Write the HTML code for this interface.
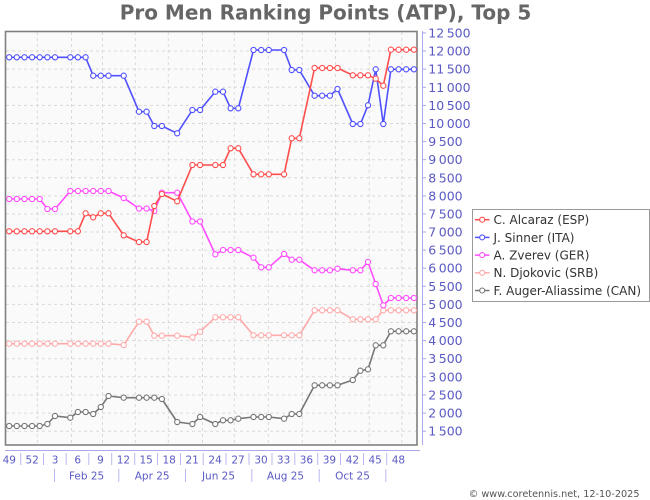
<!DOCTYPE html>
<html>
<head>
<meta charset="utf-8">
<style>
  html,body{margin:0;padding:0;background:#fff;}
  body{width:650px;height:500px;overflow:hidden;}
  svg{display:block;font-family:"DejaVu Sans","Liberation Sans",sans-serif;}
</style>
</head>
<body>
<svg width="650" height="500" viewBox="0 0 650 500" xmlns="http://www.w3.org/2000/svg">
  <defs>
    <marker id="mR" markerUnits="userSpaceOnUse" markerWidth="8" markerHeight="8" refX="4" refY="4"><circle cx="4" cy="4" r="2.6" fill="#fff" stroke="#ff4d4d" stroke-width="1.1"/></marker>
    <marker id="mB" markerUnits="userSpaceOnUse" markerWidth="8" markerHeight="8" refX="4" refY="4"><circle cx="4" cy="4" r="2.6" fill="#fff" stroke="#5050ff" stroke-width="1.1"/></marker>
    <marker id="mM" markerUnits="userSpaceOnUse" markerWidth="8" markerHeight="8" refX="4" refY="4"><circle cx="4" cy="4" r="2.6" fill="#fff" stroke="#ff4dff" stroke-width="1.1"/></marker>
    <marker id="mP" markerUnits="userSpaceOnUse" markerWidth="8" markerHeight="8" refX="4" refY="4"><circle cx="4" cy="4" r="2.6" fill="#fff" stroke="#ffaaaa" stroke-width="1.1"/></marker>
    <marker id="mG" markerUnits="userSpaceOnUse" markerWidth="8" markerHeight="8" refX="4" refY="4"><circle cx="4" cy="4" r="2.6" fill="#fff" stroke="#777777" stroke-width="1.1"/></marker>
  </defs>

  <!-- Title -->
  <text x="325.5" y="19.5" text-anchor="middle" font-size="20" font-weight="bold" fill="#666">Pro Men Ranking Points (ATP), Top 5</text>

  <!-- Plot background -->
  <rect x="5.5" y="31.5" width="411.5" height="413.5" fill="#fafafa"/>

  <!-- Grid -->
  <g stroke="#d9d9d9" stroke-width="1" stroke-dasharray="3,3" fill="none">
    <line x1="6" x2="416" y1="51" y2="51"/>
    <line x1="6" x2="416" y1="69.1" y2="69.1"/>
    <line x1="6" x2="416" y1="87.3" y2="87.3"/>
    <line x1="6" x2="416" y1="105.4" y2="105.4"/>
    <line x1="6" x2="416" y1="123.5" y2="123.5"/>
    <line x1="6" x2="416" y1="141.6" y2="141.6"/>
    <line x1="6" x2="416" y1="159.7" y2="159.7"/>
    <line x1="6" x2="416" y1="177.8" y2="177.8"/>
    <line x1="6" x2="416" y1="195.9" y2="195.9"/>
    <line x1="6" x2="416" y1="214" y2="214"/>
    <line x1="6" x2="416" y1="232" y2="232"/>
    <line x1="6" x2="416" y1="250.1" y2="250.1"/>
    <line x1="6" x2="416" y1="268.2" y2="268.2"/>
    <line x1="6" x2="416" y1="286.3" y2="286.3"/>
    <line x1="6" x2="416" y1="304.4" y2="304.4"/>
    <line x1="6" x2="416" y1="322.5" y2="322.5"/>
    <line x1="6" x2="416" y1="340.6" y2="340.6"/>
    <line x1="6" x2="416" y1="358.7" y2="358.7"/>
    <line x1="6" x2="416" y1="376.8" y2="376.8"/>
    <line x1="6" x2="416" y1="395" y2="395"/>
    <line x1="6" x2="416" y1="413.1" y2="413.1"/>
    <line x1="6" x2="416" y1="431.2" y2="431.2"/>
    <line y1="32" y2="444" x1="37.3" x2="37.3"/>
    <line y1="32" y2="444" x1="71.5" x2="71.5"/>
    <line y1="32" y2="444" x1="102.5" x2="102.5"/>
    <line y1="32" y2="444" x1="135.3" x2="135.3"/>
    <line y1="32" y2="444" x1="168.3" x2="168.3"/>
    <line y1="32" y2="444" x1="202.5" x2="202.5"/>
    <line y1="32" y2="444" x1="234.3" x2="234.3"/>
    <line y1="32" y2="444" x1="268.3" x2="268.3"/>
    <line y1="32" y2="444" x1="302.3" x2="302.3"/>
    <line y1="32" y2="444" x1="335.5" x2="335.5"/>
    <line y1="32" y2="444" x1="369.2" x2="369.2"/>
    <line y1="32" y2="444" x1="401.8" x2="401.8"/>
  </g>

  <!-- Plot frame -->
  <rect x="5.5" y="31.5" width="411.5" height="413.5" fill="none" stroke="#808080" stroke-width="1.6"/>

  <!-- Series -->
  <g fill="none" stroke-width="1.6" stroke-linejoin="round">
    <polyline stroke="#777777" marker-start="url(#mG)" marker-mid="url(#mG)" marker-end="url(#mG)"
      points="9.2,426 16.8,426 24.5,426 32.1,426 39.7,426 47.4,424 55,416 70.3,417.7 77.9,412 85.6,412 93.2,414 100.8,407 108.5,396 123.7,397.7 139,397.7 146.6,397.7 154.3,397.7 161.9,399 177.2,422 192.4,424 200.1,417 215.3,424 223,420.3 230.6,420.3 238.3,418.7 253.5,417 261.2,417 268.8,417 284.1,418.7 291.7,414 299.3,414 314.6,385.3 322.2,385.3 329.9,385.3 337.5,385.3 352.8,380 360.4,370.7 368,369.3 375.7,345.3 383.3,345.3 390.9,331.3 398.6,331.3 406.2,331.3 413.9,331.3"/>
    <polyline stroke="#ffaaaa" marker-start="url(#mP)" marker-mid="url(#mP)" marker-end="url(#mP)"
      points="9.2,343.7 16.8,343.7 24.5,343.7 32.1,343.7 39.7,343.7 47.4,343.7 55,343.7 70.3,343.7 77.9,343.7 85.6,343.7 93.2,343.7 100.8,343.7 108.5,343.7 123.7,345 139,321.7 146.6,321.7 154.3,335.7 161.9,335.7 177.2,335.7 192.4,337.3 200.1,331.7 215.3,317.3 223,317.3 230.6,317.3 238.3,317.3 253.5,335.3 261.2,335.3 268.8,335.3 284.1,335.3 291.7,335.3 299.3,335.3 314.6,310.3 322.2,310.3 329.9,310.3 337.5,310.3 352.8,319.3 360.4,319.3 368,319.3 375.7,319.3 383.3,310.3 390.9,310.3 398.6,310.3 406.2,310.3 413.9,310.3"/>
    <polyline stroke="#ff4dff" marker-start="url(#mM)" marker-mid="url(#mM)" marker-end="url(#mM)"
      points="9.2,199 16.8,199 24.5,199 32.1,199 39.7,199 47.4,209 55,209 70.3,191 77.9,191 85.6,191 93.2,191 100.8,191 108.5,191 123.7,198 139,208.5 146.6,208.5 154.3,211 161.9,192.7 177.2,192.7 192.4,221.5 200.1,221.5 215.3,254.3 223,250 230.6,250 238.3,250 253.5,257.7 261.2,267.3 268.8,267.3 284.1,254 291.7,259.7 299.3,259.7 314.6,270.3 322.2,270.3 329.9,270.3 337.5,268.7 352.8,270.3 360.4,270.3 368,262 375.7,284 383.3,305.3 390.9,298 398.6,298 406.2,298 413.9,298"/>
    <polyline stroke="#5050ff" marker-start="url(#mB)" marker-mid="url(#mB)" marker-end="url(#mB)"
      points="9.2,57.3 16.8,57.3 24.5,57.3 32.1,57.3 39.7,57.3 47.4,57.3 55,57.3 70.3,57.3 77.9,57.3 85.6,57.3 93.2,75.7 100.8,75.7 108.5,75.7 123.7,75.7 139,111.7 146.6,111.7 154.3,126 161.9,126 177.2,133.3 192.4,110 200.1,110 215.3,91.7 223,91.7 230.6,108.3 238.3,108.3 253.5,50 261.2,50 268.8,50 284.1,50 291.7,70 299.3,70 314.6,95.7 322.2,95.7 329.9,95.7 337.5,89 352.8,124 360.4,124 368,105.3 375.7,69.3 383.3,124 390.9,69.3 398.6,69.3 406.2,69.3 413.9,69.3"/>
    <polyline stroke="#ff4d4d" marker-start="url(#mR)" marker-mid="url(#mR)" marker-end="url(#mR)"
      points="9.2,231.3 16.8,231.3 24.5,231.3 32.1,231.3 39.7,231.3 47.4,231.3 55,231.3 70.3,231.3 77.9,231.3 85.6,213.3 93.2,217.3 100.8,213.3 108.5,213.3 123.7,235.3 139,242 146.6,242 154.3,206 161.9,194 177.2,201.3 192.4,165 200.1,165 215.3,165 223,165 230.6,148.3 238.3,148.3 253.5,174.3 261.2,174.3 268.8,174.3 284.1,174.3 291.7,138.3 299.3,138.3 314.6,68 322.2,68 329.9,68 337.5,68 352.8,75.3 360.4,75.3 368,75.3 375.7,78.7 383.3,85.7 390.9,49.7 398.6,49.7 406.2,49.7 413.9,49.7"/>
  </g>

  <!-- Y axis (right) -->
  <line x1="422.5" x2="422.5" y1="31" y2="445" stroke="#a8a8ea" stroke-width="1"/>
  <g stroke="#a8a8ea" stroke-width="1">
    <line x1="422.5" x2="426" y1="32.9" y2="32.9"/>
    <line x1="422.5" x2="426" y1="51" y2="51"/>
    <line x1="422.5" x2="426" y1="69.1" y2="69.1"/>
    <line x1="422.5" x2="426" y1="87.3" y2="87.3"/>
    <line x1="422.5" x2="426" y1="105.4" y2="105.4"/>
    <line x1="422.5" x2="426" y1="123.5" y2="123.5"/>
    <line x1="422.5" x2="426" y1="141.6" y2="141.6"/>
    <line x1="422.5" x2="426" y1="159.7" y2="159.7"/>
    <line x1="422.5" x2="426" y1="177.8" y2="177.8"/>
    <line x1="422.5" x2="426" y1="195.9" y2="195.9"/>
    <line x1="422.5" x2="426" y1="214" y2="214"/>
    <line x1="422.5" x2="426" y1="232" y2="232"/>
    <line x1="422.5" x2="426" y1="250.1" y2="250.1"/>
    <line x1="422.5" x2="426" y1="268.2" y2="268.2"/>
    <line x1="422.5" x2="426" y1="286.3" y2="286.3"/>
    <line x1="422.5" x2="426" y1="304.4" y2="304.4"/>
    <line x1="422.5" x2="426" y1="322.5" y2="322.5"/>
    <line x1="422.5" x2="426" y1="340.6" y2="340.6"/>
    <line x1="422.5" x2="426" y1="358.7" y2="358.7"/>
    <line x1="422.5" x2="426" y1="376.8" y2="376.8"/>
    <line x1="422.5" x2="426" y1="395" y2="395"/>
    <line x1="422.5" x2="426" y1="413.1" y2="413.1"/>
    <line x1="422.5" x2="426" y1="431.2" y2="431.2"/>
  </g>
  <g font-size="12.5" fill="#5a5ac4">
    <text x="428.3" y="37.4">12&#8201;500</text>
    <text x="428.3" y="55.5">12&#8201;000</text>
    <text x="428.3" y="73.6">11&#8201;500</text>
    <text x="428.3" y="91.8">11&#8201;000</text>
    <text x="428.3" y="109.9">10&#8201;500</text>
    <text x="428.3" y="128">10&#8201;000</text>
    <text x="428.3" y="146.1">9&#8201;500</text>
    <text x="428.3" y="164.2">9&#8201;000</text>
    <text x="428.3" y="182.3">8&#8201;500</text>
    <text x="428.3" y="200.4">8&#8201;000</text>
    <text x="428.3" y="218.5">7&#8201;500</text>
    <text x="428.3" y="236.5">7&#8201;000</text>
    <text x="428.3" y="254.6">6&#8201;500</text>
    <text x="428.3" y="272.7">6&#8201;000</text>
    <text x="428.3" y="290.8">5&#8201;500</text>
    <text x="428.3" y="308.9">5&#8201;000</text>
    <text x="428.3" y="327">4&#8201;500</text>
    <text x="428.3" y="345.1">4&#8201;000</text>
    <text x="428.3" y="363.2">3&#8201;500</text>
    <text x="428.3" y="381.3">3&#8201;000</text>
    <text x="428.3" y="399.5">2&#8201;500</text>
    <text x="428.3" y="417.6">2&#8201;000</text>
    <text x="428.3" y="435.7">1&#8201;500</text>
  </g>

  <!-- X axis -->
  <line x1="5" x2="420" y1="450.5" y2="450.5" stroke="#a8a8ea" stroke-width="1"/>
  <g stroke="#b8b8ee" stroke-width="1">
    <line x1="20.7" x2="20.7" y1="453" y2="465"/>
    <line x1="43.5" x2="43.5" y1="453" y2="465"/>
    <line x1="66.2" x2="66.2" y1="453" y2="465"/>
    <line x1="88.8" x2="88.8" y1="453" y2="465"/>
    <line x1="111.7" x2="111.7" y1="453" y2="465"/>
    <line x1="134.7" x2="134.7" y1="453" y2="465"/>
    <line x1="157.5" x2="157.5" y1="453" y2="465"/>
    <line x1="180.5" x2="180.5" y1="453" y2="465"/>
    <line x1="203.2" x2="203.2" y1="453" y2="465"/>
    <line x1="226" x2="226" y1="453" y2="465"/>
    <line x1="249" x2="249" y1="453" y2="465"/>
    <line x1="272" x2="272" y1="453" y2="465"/>
    <line x1="294.8" x2="294.8" y1="453" y2="465"/>
    <line x1="317.7" x2="317.7" y1="453" y2="465"/>
    <line x1="340.5" x2="340.5" y1="453" y2="465"/>
    <line x1="363.5" x2="363.5" y1="453" y2="465"/>
    <line x1="386.7" x2="386.7" y1="453" y2="465"/>
    <line x1="54.5" x2="54.5" y1="469" y2="482"/>
    <line x1="118.8" x2="118.8" y1="469" y2="482"/>
    <line x1="185.5" x2="185.5" y1="469" y2="482"/>
    <line x1="251.8" x2="251.8" y1="469" y2="482"/>
    <line x1="319.2" x2="319.2" y1="469" y2="482"/>
    <line x1="385.8" x2="385.8" y1="469" y2="482"/>
  </g>
  <g font-size="10.5" fill="#5a5ac4" text-anchor="middle">
    <text x="9.3" y="463.5">49</text>
    <text x="32.2" y="463.5">52</text>
    <text x="55.1" y="463.5">3</text>
    <text x="77.7" y="463.5">6</text>
    <text x="100.5" y="463.5">9</text>
    <text x="123.4" y="463.5">12</text>
    <text x="146.2" y="463.5">15</text>
    <text x="169.2" y="463.5">18</text>
    <text x="192.2" y="463.5">21</text>
    <text x="215.1" y="463.5">24</text>
    <text x="238" y="463.5">27</text>
    <text x="261" y="463.5">30</text>
    <text x="283.6" y="463.5">33</text>
    <text x="306.4" y="463.5">36</text>
    <text x="329.4" y="463.5">39</text>
    <text x="352.4" y="463.5">42</text>
    <text x="375.2" y="463.5">45</text>
    <text x="398.4" y="463.5">48</text>
    <text x="86.6" y="479.3">Feb 25</text>
    <text x="152.2" y="479.3">Apr 25</text>
    <text x="218.5" y="479.3">Jun 25</text>
    <text x="285.5" y="479.3">Aug 25</text>
    <text x="352.5" y="479.3">Oct 25</text>
  </g>

  <!-- Legend -->
  <rect x="472.5" y="209.5" width="177" height="92" fill="#fff" stroke="#9a9a9a" stroke-width="1"/>
  <g stroke-width="1.5">
    <line x1="475" x2="489.5" y1="219.7" y2="219.7" stroke="#ff4d4d"/>
    <circle cx="482.2" cy="219.7" r="2.5" fill="#fff" stroke="#ff4d4d" stroke-width="1.1"/>
    <line x1="475" x2="489.5" y1="237.4" y2="237.4" stroke="#5050ff"/>
    <circle cx="482.2" cy="237.4" r="2.5" fill="#fff" stroke="#5050ff" stroke-width="1.1"/>
    <line x1="475" x2="489.5" y1="255.1" y2="255.1" stroke="#ff4dff"/>
    <circle cx="482.2" cy="255.1" r="2.5" fill="#fff" stroke="#ff4dff" stroke-width="1.1"/>
    <line x1="475" x2="489.5" y1="272.8" y2="272.8" stroke="#ffaaaa"/>
    <circle cx="482.2" cy="272.8" r="2.5" fill="#fff" stroke="#ffaaaa" stroke-width="1.1"/>
    <line x1="475" x2="489.5" y1="290.5" y2="290.5" stroke="#777777"/>
    <circle cx="482.2" cy="290.5" r="2.5" fill="#fff" stroke="#777777" stroke-width="1.1"/>
  </g>
  <g font-size="12" fill="#333">
    <text x="493.5" y="224.1">C. Alcaraz (ESP)</text>
    <text x="493.5" y="241.8">J. Sinner (ITA)</text>
    <text x="493.5" y="259.5">A. Zverev (GER)</text>
    <text x="493.5" y="277.2">N. Djokovic (SRB)</text>
    <text x="493.5" y="294.9">F. Auger-Aliassime (CAN)</text>
  </g>

  <!-- Footer -->
  <text x="639.5" y="496.8" text-anchor="end" font-size="9.7" fill="#555">© www.coretennis.net, 12-10-2025</text>
</svg>
</body>
</html>
